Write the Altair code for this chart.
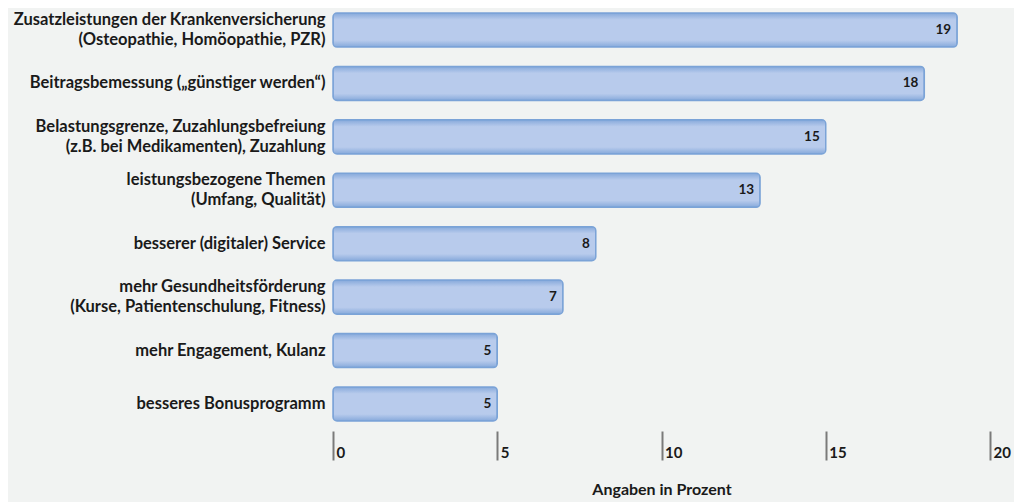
import altair as alt
import pandas as pd

categories = [
    "Zusatzleistungen der Krankenversicherung\n(Osteopathie, Homöopathie, PZR)",
    "Beitragsbemessung (\u201egünstiger werden\u201c)",
    "Belastungsgrenze, Zuzahlungsbefreiung\n(z.B. bei Medikamenten), Zuzahlung",
    "leistungsbezogene Themen\n(Umfang, Qualität)",
    "besserer (digitaler) Service",
    "mehr Gesundheitsförderung\n(Kurse, Patientenschulung, Fitness)",
    "mehr Engagement, Kulanz",
    "besseres Bonusprogramm",
]
values = [19, 18, 15, 13, 8, 7, 5, 5]
x_ticks = [0, 5, 10, 15, 20]

df = pd.DataFrame({"cat": categories, "val": values})

FONT = "Lato"
BG = "#f1f3f2"

grad = alt.Gradient(
    gradient="linear",
    stops=[
        alt.GradientStop(color="#86a9db", offset=0),
        alt.GradientStop(color="#b8cbec", offset=0.2),
        alt.GradientStop(color="#b8cbec", offset=0.8),
        alt.GradientStop(color="#86a9db", offset=1),
    ],
    x1=0, x2=0, y1=0, y2=1,
)

y_enc = alt.Y(
    "cat:N",
    sort=None,
    title=None,
    scale=alt.Scale(paddingInner=0.363, paddingOuter=0.094),
    axis=alt.Axis(
        labelExpr="split(datum.label, '\\n')",
        labelFont=FONT,
        labelFontSize=16.5,
        labelFontWeight="bold",
        labelColor="#1a1a1a",
        labelLineHeight=20,
        labelPadding=8,
        labelLimit=400,
        labelOffset={
            "condition": {"test": "indexof(datum.value, '\\n') >= 0", "value": -10},
            "value": 0,
        },
        ticks=False,
        domain=False,
        grid=False,
    ),
)

x_enc = alt.X(
    "val:Q",
    scale=alt.Scale(domain=[0, 20], nice=False),
    title="Angaben in Prozent",
    axis=alt.Axis(
        values=x_ticks,
        domain=False,
        grid=False,
        tickSize=29,
        tickColor="#7a7a7a",
        tickWidth=2,
        offset=5,
        labelAlign="left",
        labelBaseline="bottom",
        labelPadding=0,
        labelOffset=3,
        labelFont=FONT,
        labelFontSize=15,
        labelFontWeight="bold",
        labelColor="#1a1a1a",
        titleFont=FONT,
        titleFontSize=16,
        titleFontWeight="bold",
        titleColor="#1a1a1a",
        titlePadding=20,
    ),
)

bars = alt.Chart(df).mark_bar(
    fill=grad,
    stroke="#7ba3d7",
    strokeWidth=1.5,
    cornerRadius=4,
).encode(x=x_enc, y=y_enc)

labels = alt.Chart(df).mark_text(
    align="right",
    baseline="middle",
    dx=-6,
    font=FONT,
    fontSize=13.5,
    fontWeight="bold",
    color="#1a1a1a",
).encode(x="val:Q", y=alt.Y("cat:N", sort=None), text="val:Q")

chart = (
    alt.layer(bars, labels)
    .properties(
        width=657,
        height=418,
        autosize=alt.AutoSizeParams(type="none"),
        padding={"left": 325, "right": 24, "top": 0, "bottom": 76},
        background=BG,
    )
    .configure_view(stroke=None)
)

chart.save("out.html", embed_options={"renderer": "svg", "actions": False})
